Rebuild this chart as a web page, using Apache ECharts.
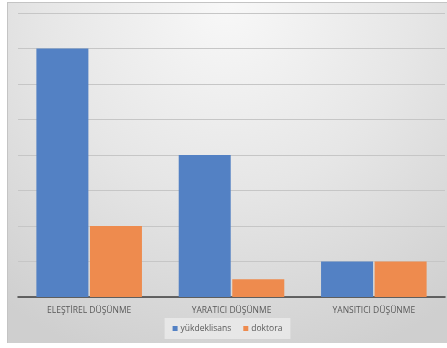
<!DOCTYPE html>
<html>
<head>
<meta charset="utf-8">
<script src="https://cdn.jsdelivr.net/npm/echarts@6/dist/echarts.min.js"></script>
<style>
html,body{margin:0;padding:0;background:#fff;width:447px;height:348px;overflow:hidden;}
#chart{position:absolute;left:7px;top:2px;width:440px;height:341px;border-top:1px solid #c4c4c4;border-left:1px solid #c4c4c4;box-sizing:border-box;}
</style>
</head>
<body>
<div id="chart"></div>
<script>
const categories = ['ELEŞTİREL DÜŞÜNME', 'YARATICI DÜŞÜNME', 'YANSITICI DÜŞÜNME'];
const seriesNames = ['yükdeklisans', 'doktora'];
const yuksekLisans = [7, 4, 1];
const doktora = [2, 0.5, 1];

const chart = echarts.init(document.getElementById('chart'), null, {renderer: 'canvas'});
chart.setOption({
  animation: false,
  backgroundColor: {
    type: 'radial', x: 0.5, y: 0, r: 1.1,
    colorStops: [
      {offset: 0, color: '#f8f8f8'},
      {offset: 0.5, color: '#e6e6e6'},
      {offset: 1, color: '#cfcfcf'}
    ]
  },
  textStyle: {fontFamily: 'Open Sans'},
  grid: {left: 10, right: 2, top: 10, bottom: 46, containLabel: false},
  legend: {
    bottom: 4,
    left: 'center',
    data: seriesNames,
    itemWidth: 5, itemHeight: 5, itemGap: 12,
    icon: 'rect',
    padding: [6, 8, 6, 8],
    backgroundColor: 'rgba(245,245,245,0.55)',
    textStyle: {fontSize: 8.5, color: '#595959', fontFamily: 'Open Sans', padding: [0, 0, 0, -2]}
  },
  xAxis: {
    type: 'category',
    data: categories,
    axisLine: {lineStyle: {color: '#3c3c3c', width: 1.5}},
    axisTick: {show: false},
    axisLabel: {fontSize: 8.5, color: '#595959', margin: 9, fontFamily: 'Open Sans'}
  },
  yAxis: {
    type: 'value', min: 0, max: 8, interval: 1,
    axisLabel: {show: false},
    axisLine: {show: false},
    axisTick: {show: false},
    splitLine: {lineStyle: {color: '#c6c6c6', width: 1}}
  },
  series: [
    {name: seriesNames[0], type: 'bar', data: yuksekLisans, barWidth: 52, barGap: '3%',
     itemStyle: {color: '#5381c4'}},
    {name: seriesNames[1], type: 'bar', data: doktora, barWidth: 52,
     itemStyle: {color: '#ee8b4e'}}
  ]
});
</script>
</body>
</html>
